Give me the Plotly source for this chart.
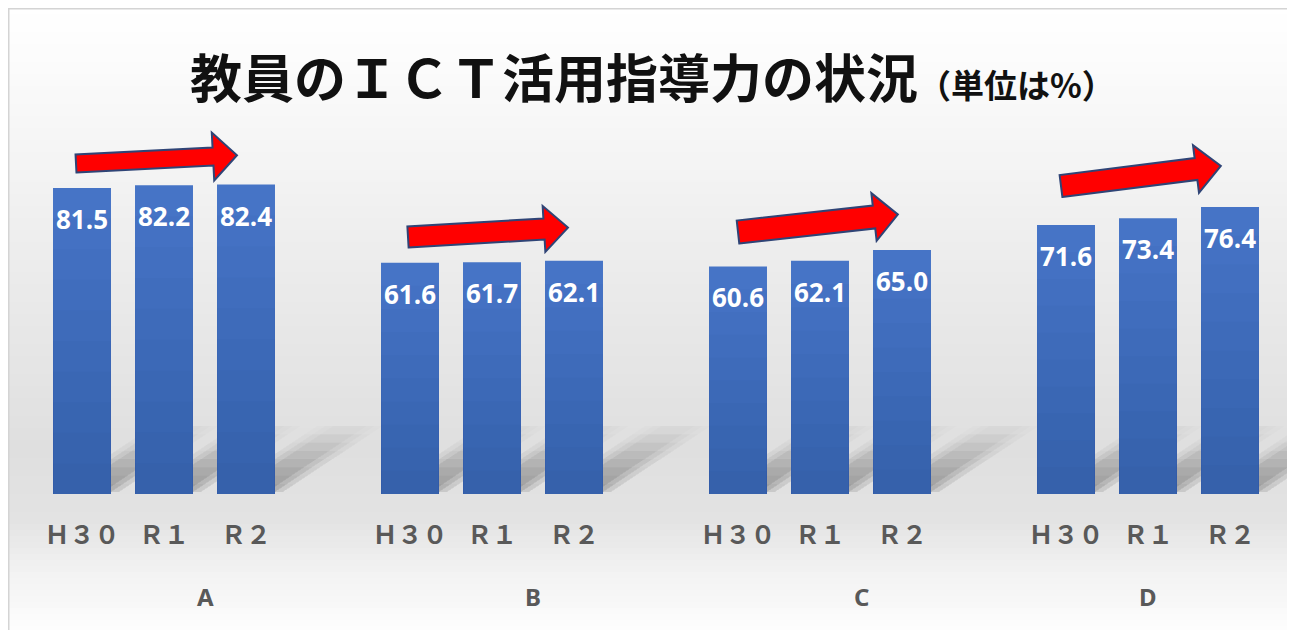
import math
import plotly.graph_objects as go

# ---------------- data ----------------
groups = ["A", "B", "C", "D"]
years = ["Ｈ３０", "Ｒ１", "Ｒ２"]
values_H30 = [81.5, 61.6, 60.6, 71.6]
values_R1 = [82.2, 61.7, 62.1, 73.4]
values_R2 = [82.4, 62.1, 65.0, 76.4]
series = [values_H30, values_R1, values_R2]

# ---------------- layout constants (page pixels; figure sits at page offset 8,8) ----------------
OX, OY = 8, 8
W, H = 1287, 622
PAGE_PLOT_L, PAGE_PLOT_R = 41, 1271
PAGE_PLOT_T, PAGE_PLOT_B = 156, 494
ML, MR = PAGE_PLOT_L - OX, OX + W - PAGE_PLOT_R
MT, MB = PAGE_PLOT_T - OY, OY + H - PAGE_PLOT_B
PW, PH = W - ML - MR, H - MT - MB
XMIN, XMAX = -0.5, 14.5
YMIN, YMAX = 0, 90
SLOTS_PER_GROUP = 4
BAR_W = 0.707

def px_to_paper(px, py):
    return (px - PAGE_PLOT_L) / PW, (PAGE_PLOT_B - py) / PH

def data_to_px(x, y):
    return (PAGE_PLOT_L + (x - XMIN) / (XMAX - XMIN) * PW,
            PAGE_PLOT_B - (y - YMIN) / (YMAX - YMIN) * PH)

# bar positions
xs, ys = [], []
for g in range(len(groups)):
    for s in range(len(years)):
        xs.append(g * SLOTS_PER_GROUP + s)
        ys.append(series[s][g])
ticktext = ["<b>%s</b>" % years[s] for g in range(len(groups)) for s in range(len(years))]

fig = go.Figure()

fig.add_trace(go.Bar(x=xs, y=ys, width=BAR_W, marker=dict(color="#4674C6", line=dict(width=0)),
                     hoverinfo="x+y", showlegend=False))
for k in range(1, 10):
    f = 1 - k / 10
    fig.add_trace(go.Bar(x=xs, y=[v * f for v in ys], width=BAR_W,
                         marker=dict(color="rgba(20,50,120,0.035)", line=dict(width=0)),
                         hoverinfo="skip", showlegend=False))

shapes = []

# background gradient inside the frame
stops = [(8, (255, 255, 255)), (110, (248, 248, 248)), (250, (237, 237, 237)),
         (450, (223, 223, 223)), (520, (227, 227, 227)), (575, (243, 243, 243)), (630, (253, 253, 253))]
def bg_color(y):
    for (y0, c0), (y1, c1) in zip(stops[:-1], stops[1:]):
        if y0 <= y <= y1:
            t = (y - y0) / (y1 - y0)
            return tuple(round(a + (b - a) * t) for a, b in zip(c0, c1))
    return stops[-1][1]
band = 6
yb = 8
while yb < 640:
    c = bg_color(yb + band / 2)
    x0p, y0p = px_to_paper(8, yb)
    x1p, y1p = px_to_paper(1320, min(yb + band, 660))
    shapes.append(dict(type="rect", xref="paper", yref="paper", x0=x0p, x1=x1p, y0=y1p, y1=y0p,
                       fillcolor="rgb(%d,%d,%d)" % c, line=dict(width=0), layer="below"))
    yb += band
x0p, y0p = px_to_paper(8.75, 8.75)
x1p, y1p = px_to_paper(1330, 680)
shapes.append(dict(type="rect", xref="paper", yref="paper", x0=x0p, x1=x1p, y0=y1p, y1=y0p,
                   fillcolor="rgba(0,0,0,0)", line=dict(width=1.5, color="#d4d4d4"), layer="below"))

# soft diagonal bar shadows (layered for blur)
for x in xs:
    xl, yb0 = data_to_px(x - BAR_W / 2, 0)
    xr, _ = data_to_px(x + BAR_W / 2, 0)
    for i in range(1, 9):
        k = i / 8
        dx, dy = 100 * k, 66 * k
        for off in (-8, 0, 8):
            pts = [(xl + 8 + off, yb0 - 2), (xr + off, yb0 - 2),
                   (xr + off + dx, yb0 - 2 - dy), (xl + 8 + off + dx, yb0 - 2 - dy)]
            path = "M " + " L ".join("%f,%f" % px_to_paper(a, b) for a, b in pts) + " Z"
            shapes.append(dict(type="path", xref="paper", yref="paper", path=path,
                               fillcolor="rgba(0,0,0,0.011)", line=dict(width=0), layer="below"))

# red arrows (decoration): tail centre, head-base centre, body width, head half-height, head length (px)
ARROWS = [((76, 163.5), (213, 156.5), 18, 24, 24),
          ((408, 237), (544, 229), 21, 23, 24),
          ((738, 232), (874, 217), 23, 24, 24),
          ((1061, 186), (1196, 169), 22, 24, 25)]
for (tx, ty), (hx, hy), w, hh, hl in ARROWS:
    L = math.hypot(hx - tx, hy - ty)
    ux, uy = (hx - tx) / L, (hy - ty) / L
    nx, ny = -uy, ux
    pts = [(tx + nx * w / 2, ty + ny * w / 2), (hx + nx * w / 2, hy + ny * w / 2),
           (hx + nx * hh, hy + ny * hh), (hx + ux * hl, hy + uy * hl),
           (hx - nx * hh, hy - ny * hh), (hx - nx * w / 2, hy - ny * w / 2),
           (tx - nx * w / 2, ty - ny * w / 2)]
    path = "M " + " L ".join("%f,%f" % px_to_paper(a, b) for a, b in pts) + " Z"
    shapes.append(dict(type="path", xref="paper", yref="paper", path=path,
                       fillcolor="#FF0000", line=dict(width=2, color="#2F4476"), layer="above"))

annotations = []
for x, v in zip(xs, ys):
    annotations.append(dict(x=x, y=v, xref="x", yref="y", text="<b>%.1f</b>" % v, showarrow=False,
                            yshift=-31, font=dict(family="Open Sans", size=26, color="white")))
GROUP_LABEL_X = [1.5, 5.5, 9.5, 13.0]
for gx, gname in zip(GROUP_LABEL_X, groups):
    annotations.append(dict(x=gx, xref="x", y=px_to_paper(0, 596)[1], yref="paper", yanchor="middle",
                            text="<b>%s</b>" % gname, showarrow=False,
                            font=dict(family="Noto Sans", size=24, color="#595959")))
annotations.append(dict(x=px_to_paper(652, 0)[0], y=px_to_paper(0, 76)[1], xref="paper", yref="paper",
                        yanchor="middle", showarrow=False,
                        text="<b>教員のＩＣＴ活用指導力の状況</b><span style='font-size:33px'><b>（単位は%）</b></span>",
                        font=dict(family="Noto Sans CJK JP", size=52, color="#111111")))

fig.update_layout(
    width=W, height=H,
    margin=dict(l=ML, r=MR, t=MT, b=MB),
    paper_bgcolor="white", plot_bgcolor="rgba(0,0,0,0)",
    barmode="overlay",
    showlegend=False,
    shapes=shapes,
    annotations=annotations,
    xaxis=dict(range=[XMIN, XMAX], tickmode="array", tickvals=xs, ticktext=ticktext,
               showgrid=False, zeroline=False, showline=False, ticks="",
               ticklabelstandoff=24,
               tickfont=dict(family="Noto Sans CJK JP", size=25, color="#595959"), fixedrange=True),
    yaxis=dict(range=[YMIN, YMAX], visible=False, fixedrange=True),
)

fig.write_html("out.html")
